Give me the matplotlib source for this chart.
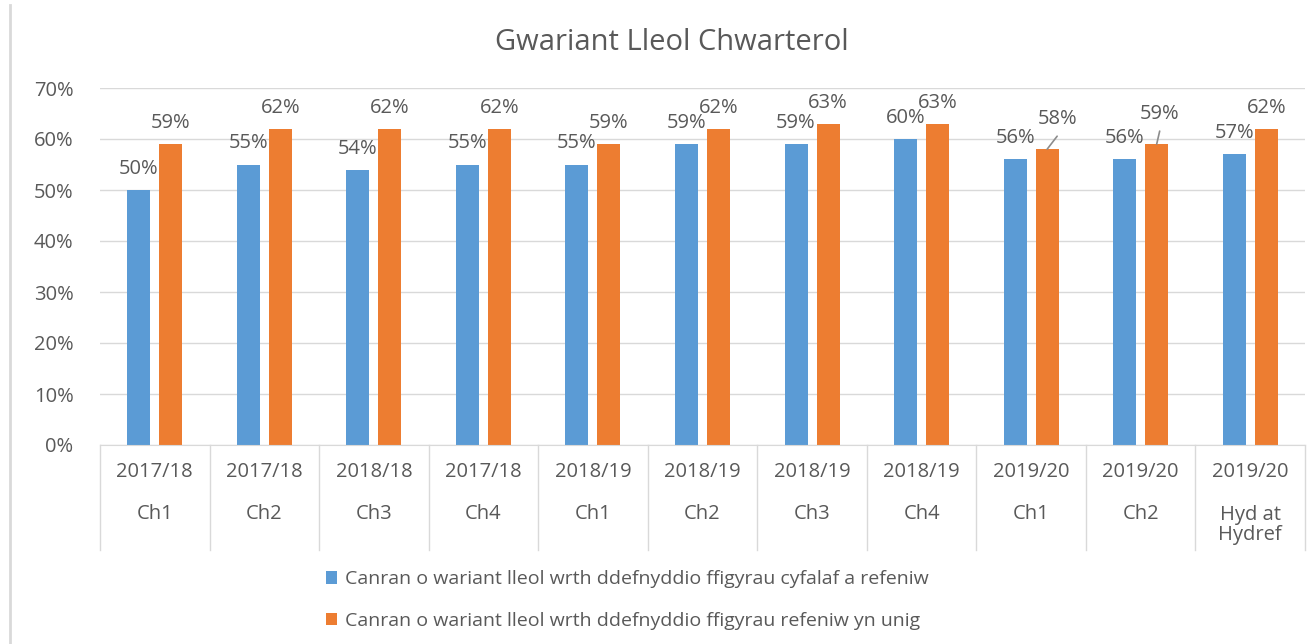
import numpy as np
import matplotlib.pyplot as plt
from matplotlib.lines import Line2D

plt.rcParams['font.family'] = ['Open Sans', 'DejaVu Sans']

# donnees
blwyddyn = ["2017/18", "2017/18", "2018/18", "2017/18", "2018/19", "2018/19",
            "2018/19", "2018/19", "2019/20", "2019/20", "2019/20"]
chwarter = ["Ch1", "Ch2", "Ch3", "Ch4", "Ch1", "Ch2", "Ch3", "Ch4", "Ch1", "Ch2",
            "Hyd at\nHydref"]
cyfalaf_refeniw = [50, 55, 54, 55, 55, 59, 59, 60, 56, 56, 57]
refeniw_unig = [59, 62, 62, 62, 59, 62, 63, 63, 58, 59, 62]

lab_1 = "Canran o wariant lleol wrth ddefnyddio ffigyrau cyfalaf a refeniw"
lab_2 = "Canran o wariant lleol wrth ddefnyddio ffigyrau refeniw yn unig"

glas = "#5B9BD5"
oren = "#ED7D31"
llwyd = "#595959"
fs = 14.5

W, H = 1310, 644
fig = plt.figure(figsize=(W / 100, H / 100), dpi=100)
ax = fig.add_axes([100 / W, (H - 445) / H, 1205 / W, (445 - 88) / H])

n = len(blwyddyn)
x = np.arange(n)
w = 0.21
off = 16 / 109.5

b1 = ax.bar(x - off, [v / 100 for v in cyfalaf_refeniw], w, color=glas, label=lab_1, zorder=2)
b2 = ax.bar(x + off, [v / 100 for v in refeniw_unig], w, color=oren, label=lab_2, zorder=2)

ax.set_xlim(-0.5, n - 0.5)
ax.set_ylim(0, 0.70)
ax.set_yticks(np.arange(0, 0.71, 0.1))
ax.set_yticklabels([f"{int(round(t * 100))}%" for t in np.arange(0, 0.71, 0.1)])
ax.yaxis.grid(True, color="#D9D9D9", lw=1)
ax.set_axisbelow(True)
for s in ["top", "right", "left"]:
    ax.spines[s].set_visible(False)
ax.spines["bottom"].set_color("#D9D9D9")
ax.tick_params(axis="y", length=0, labelsize=fs, labelcolor=llwyd, pad=19)
ax.set_xticks([])

# etiquettes des barres
for i, v in enumerate(cyfalaf_refeniw):
    ax.annotate(f"{v}%", (x[i] - off, v / 100), xytext=(0, 21), textcoords="offset pixels",
                ha="center", va="center", fontsize=fs, color=llwyd)
for i, v in enumerate(refeniw_unig):
    if i in (8, 9):
        # etiquettes deplacees avec trait de rappel
        dx = 10 if i == 8 else 3
        ax.annotate(f"{v}%", (x[i] + off, v / 100), xytext=(dx, 30), textcoords="offset pixels",
                    ha="center", va="center", fontsize=fs, color=llwyd)
        ax.annotate("", (x[i] + off, v / 100), xytext=(dx, 13), textcoords="offset pixels",
                    arrowprops=dict(arrowstyle="-", color="#8C8C8C", lw=1.2,
                                    shrinkA=0, shrinkB=0))
    else:
        ax.annotate(f"{v}%", (x[i] + off, v / 100), xytext=(0, 21), textcoords="offset pixels",
                    ha="center", va="center", fontsize=fs, color=llwyd)

# axe des categories sur deux niveaux
tr = ax.get_xaxis_transform()
for i in range(n + 1):
    ax.add_line(Line2D([i - 0.5, i - 0.5], [0, -(550 - 445) / 357], transform=tr,
                       color="#D9D9D9", lw=1, clip_on=False))
for i in range(n):
    ax.text(x[i], -(472 - 445) / 357, blwyddyn[i], transform=tr, ha="center", va="center",
            fontsize=fs, color=llwyd)
    if "\n" in chwarter[i]:
        ax.text(x[i], -(525 - 445) / 357, chwarter[i], transform=tr, ha="center", va="center",
                fontsize=fs, color=llwyd, linespacing=1.05)
    else:
        ax.text(x[i], -(514 - 445) / 357, chwarter[i], transform=tr, ha="center", va="center",
                fontsize=fs, color=llwyd)

fig.text(672 / W, 1 - 43 / H, "Gwariant Lleol Chwarterol", ha="center", va="center",
         fontsize=21, color=llwyd)

leg = fig.legend(handles=[b1, b2], loc="upper left", bbox_to_anchor=(308 / W, 1 - 553 / H),
                 frameon=False, fontsize=14, labelcolor=llwyd, handlelength=0.6,
                 handleheight=0.6, handletextpad=0.4, labelspacing=1.2)

# bordure gauche du cadre
fig.add_artist(Line2D([10 / W, 10 / W], [0, 1 - 5 / H], color="#D9D9D9", lw=2))

fig.savefig("out.png", dpi=100)
